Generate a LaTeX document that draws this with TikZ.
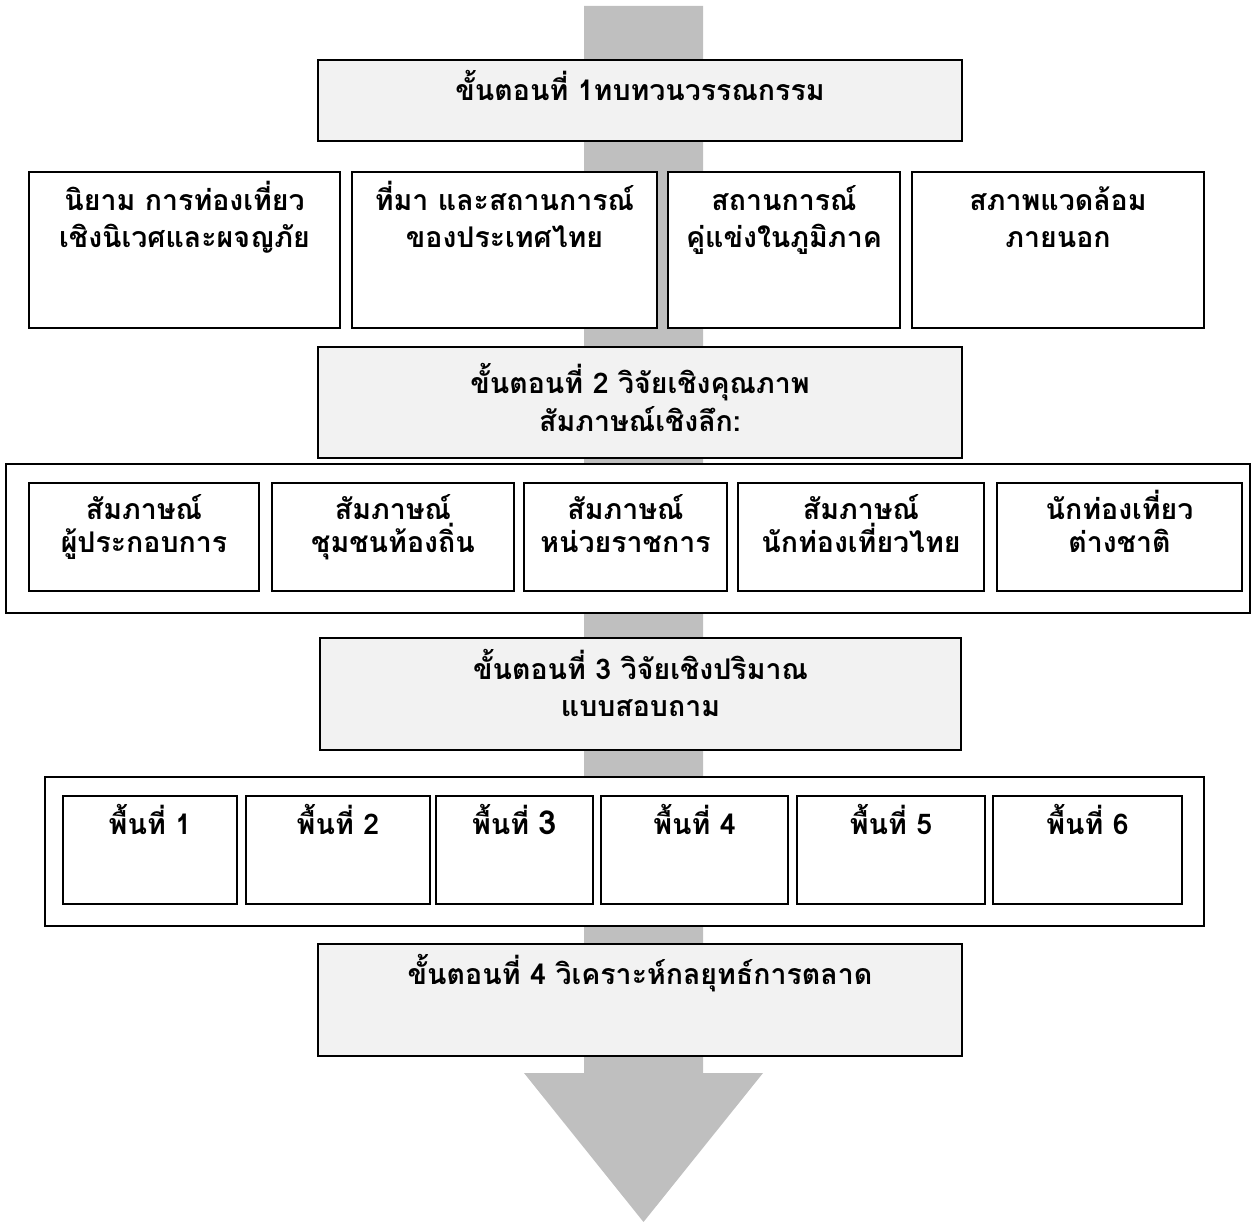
\documentclass[tikz,border=0pt]{standalone}
\usepackage{fontspec}
\newfontfamily\thai[Script=Thai]{Loma}
\definecolor{stepfill}{HTML}{F2F2F2}
\definecolor{arrowgray}{HTML}{BFBFBF}
\newcommand\mkbox[6]{\node[#6, anchor=north west, inner sep=0pt, outer sep=0pt,
  minimum width={(#4)-(#2)}, minimum height={(#5)-(#3)}] (#1) at (#2,#3) {};}
\begin{document}
\begin{tikzpicture}[x=1pt,y=-1pt,
  stepbox/.style={draw=black, line width=2pt, fill=stepfill},
  subbox/.style={draw=black, line width=2pt, fill=white},
  areabox/.style={draw=black, line width=1.6pt, fill=white},
  txt/.style={font=\thai\bfseries\fontsize{28.5}{32}\selectfont, inner sep=0pt, anchor=base}]
\useasboundingbox (0,0) rectangle (1255,1222);
% big arrow
\fill[arrowgray] (584,6) -- (703,6) -- (703,1073) -- (763,1073) -- (643.5,1222)
  -- (524,1073) -- (584,1073) -- cycle;
% step 1
\mkbox{s1}{318}{60}{962}{141}{stepbox}
\node[txt] (s1t) at ([yshift=-41pt]s1.north) {ขั้นตอนที่ 1ทบทวนวรรณกรรม};
% row 1
\mkbox{r1}{29}{172}{340}{328}{subbox}
\mkbox{r2}{352}{172}{657}{328}{subbox}
\mkbox{r3}{668}{172}{900}{328}{subbox}
\mkbox{r4}{912}{172}{1204}{328}{subbox}
\node[txt] (r1a) at ([yshift=-39pt]r1.north) {นิยาม การท่องเที่ยว};
\node[txt] (r1b) at ([yshift=-76pt]r1.north) {เชิงนิเวศและผจญภัย};
\node[txt] (r2a) at ([yshift=-39pt]r2.north) {ที่มา และสถานการณ์};
\node[txt] (r2b) at ([yshift=-76pt]r2.north) {ของประเทศไทย};
\node[txt] (r3a) at ([yshift=-39pt]r3.north) {สถานการณ์};
\node[txt] (r3b) at ([yshift=-76pt]r3.north) {คู่แข่งในภูมิภาค};
\node[txt] (r4a) at ([yshift=-39pt]r4.north) {สภาพแวดล้อม};
\node[txt] (r4b) at ([yshift=-76pt]r4.north) {ภายนอก};
% step 2
\mkbox{s2}{318}{347}{962}{458}{stepbox}
\node[txt] (s2a) at ([yshift=-46pt]s2.north) {ขั้นตอนที่ 2 วิจัยเชิงคุณภาพ};
\node[txt] (s2b) at ([yshift=-84pt]s2.north) {สัมภาษณ์เชิงลึก:};
% area 2
\mkbox{a2}{6}{464}{1250}{613}{areabox}
\mkbox{i1}{29}{483}{259}{591}{subbox}
\mkbox{i2}{272}{483}{514}{591}{subbox}
\mkbox{i3}{524}{483}{727}{591}{subbox}
\mkbox{i4}{738}{483}{984}{591}{subbox}
\mkbox{i5}{997}{483}{1242}{591}{subbox}
\node[txt] (i1a) at ([yshift=-36pt]i1.north) {สัมภาษณ์};
\node[txt] (i1b) at ([yshift=-69pt]i1.north) {ผู้ประกอบการ};
\node[txt] (i2a) at ([yshift=-36pt]i2.north) {สัมภาษณ์};
\node[txt] (i2b) at ([yshift=-69pt]i2.north) {ชุมชนท้องถิ่น};
\node[txt] (i3a) at ([yshift=-36pt]i3.north) {สัมภาษณ์};
\node[txt] (i3b) at ([yshift=-69pt]i3.north) {หน่วยราชการ};
\node[txt] (i4a) at ([yshift=-36pt]i4.north) {สัมภาษณ์};
\node[txt] (i4b) at ([yshift=-69pt]i4.north) {นักท่องเที่ยวไทย};
\node[txt] (i5a) at ([yshift=-36pt]i5.north) {นักท่องเที่ยว};
\node[txt] (i5b) at ([yshift=-69pt]i5.north) {ต่างชาติ};
% step 3
\mkbox{s3}{320}{638}{961}{750}{stepbox}
\node[txt] (s3a) at ([yshift=-41pt]s3.north) {ขั้นตอนที่ 3 วิจัยเชิงปริมาณ};
\node[txt] (s3b) at ([yshift=-78pt]s3.north) {แบบสอบถาม};
% area 3
\mkbox{a3}{45}{777}{1204}{926}{areabox}
\mkbox{p1}{63}{796}{237}{904}{subbox}
\mkbox{p2}{246}{796}{430}{904}{subbox}
\mkbox{p3}{436}{796}{593}{904}{subbox}
\mkbox{p4}{601}{796}{788}{904}{subbox}
\mkbox{p5}{797}{796}{985}{904}{subbox}
\mkbox{p6}{993}{796}{1182}{904}{subbox}
\node[txt] (p1t) at ([yshift=-38pt]p1.north) {พื้นที่ 1};
\node[txt] (p2t) at ([yshift=-38pt]p2.north) {พื้นที่ 2};
\node[txt] (p3t) at ([yshift=-38pt]p3.north) {พื้นที่ {\fontsize{33}{36}\selectfont 3}};
\node[txt] (p4t) at ([yshift=-38pt]p4.north) {พื้นที่ 4};
\node[txt] (p5t) at ([yshift=-38pt]p5.north) {พื้นที่ 5};
\node[txt] (p6t) at ([yshift=-38pt]p6.north) {พื้นที่ 6};
% step 4
\mkbox{s4}{318}{944}{962}{1056}{stepbox}
\node[txt] (s4t) at ([yshift=-40pt]s4.north) {ขั้นตอนที่ 4 วิเคราะห์กลยุทธ์การตลาด};
\end{tikzpicture}
\end{document}
